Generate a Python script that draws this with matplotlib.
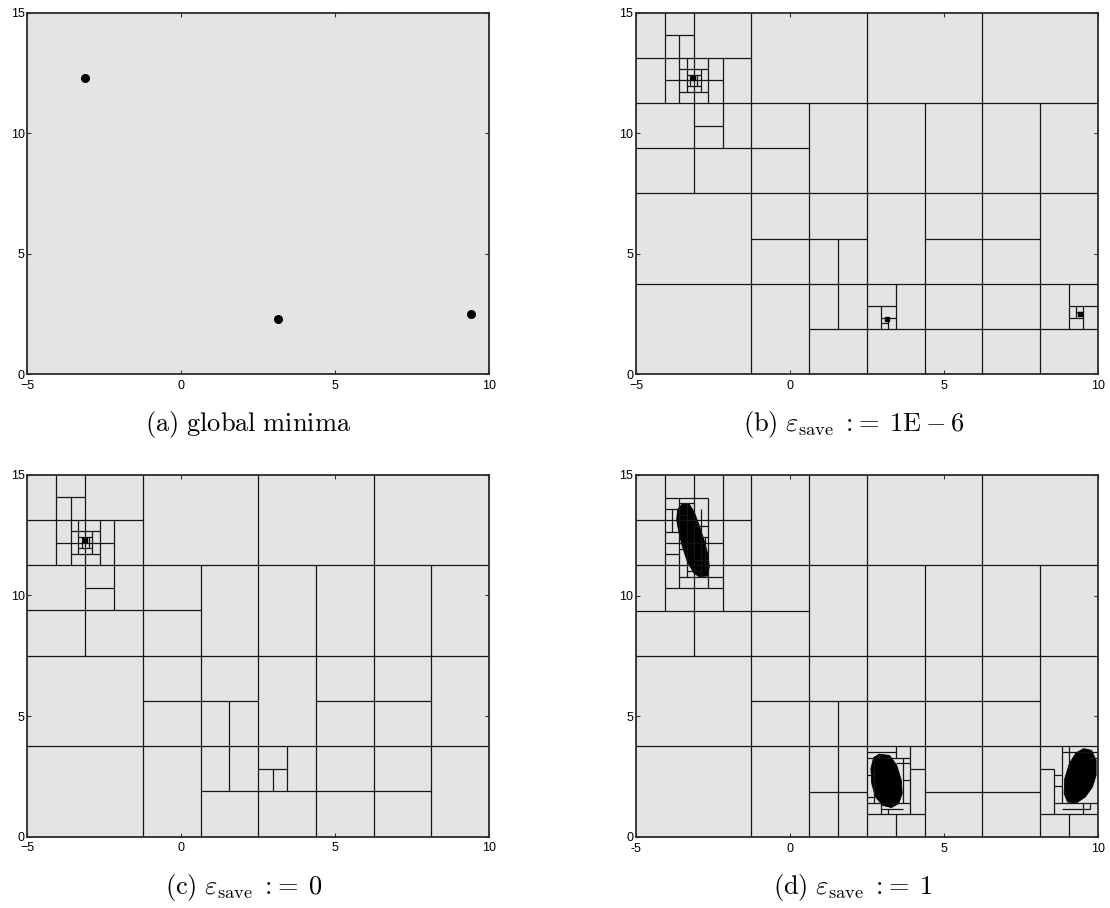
"""
Branin function: boxes left by the branch and bound search for several
values of eps_save, compared with the three global minima.
"""
import matplotlib.pyplot as plt

plt.rcParams['mathtext.fontset'] = 'cm'
plt.rcParams['font.family'] = ['Liberation Sans', 'DejaVu Sans']

X_LIM = (-5, 10)
Y_LIM = (0, 15)
x_ticks = [-5, 0, 5, 10]
y_ticks = [0, 5, 10, 15]
x_tick_labels = ['\u22125', '0', '5', '10']
x_tick_labels_d = ['-5', '0', '5', '10']
y_tick_labels = ['0', '5', '10', '15']

captions = [r'$\mathrm{(a)\ global\ minima}$',
            r'$\mathrm{(b)}\ \varepsilon_{\mathrm{save}}\;{:}\!{=}\;1\mathrm{E}-6$',
            r'$\mathrm{(c)}\ \varepsilon_{\mathrm{save}}\;{:}\!{=}\;0$',
            r'$\mathrm{(d)}\ \varepsilon_{\mathrm{save}}\;{:}\!{=}\;1$']

# global minima of the Branin function
minima_x = [-3.1416, 3.1416, 9.4248]
minima_y = [12.275, 2.275, 2.475]

# box edges shared by (b) and (c)
# horizontal: (y, x0, x1)   vertical: (x, y0, y1)
bc_hlines = [
    (13.125, -5, -1.25), (11.25, -5, 10), (9.375, -5, 0.625), (7.5, -5, 10),
    (5.625, -1.25, 2.5), (5.625, 4.375, 8.125), (3.75, -5, 10),
    (10.3125, -3.125, -2.1875), (14.0625, -4.0625, -3.125),
    (12.1875, -4.0625, -2.1875),
    (12.65625, -3.59375, -2.65625), (11.71875, -3.59375, -2.65625),
    (12.421875, -3.359375, -2.890625), (11.953125, -3.359375, -2.890625),
    (2.8125, 2.5, 3.4375),
]
bc_vlines = [
    (-1.25, 0, 15), (2.5, 0, 15), (6.25, 0, 15),
    (0.625, 0, 11.25), (4.375, 0, 11.25), (8.125, 0, 11.25),
    (-3.125, 7.5, 15), (-4.0625, 11.25, 15), (-2.1875, 9.375, 13.125),
    (1.5625, 1.875, 5.625),
    (-3.59375, 11.25, 14.0625), (-2.65625, 11.25, 13.125),
    (-3.359375, 11.71875, 13.125), (-2.890625, 11.71875, 12.65625),
    (-3.2421875, 11.953125, 12.421875), (-3.0078125, 11.953125, 12.421875),
    (3.4375, 1.875, 3.75), (2.96875, 1.875, 2.8125),
]

# extra edges of (b)
b_hlines = [
    (1.875, 0.625, 10), (2.34375, 2.96875, 3.4375), (2.109375, 2.96875, 3.203125),
    (2.8125, 9.0625, 10), (2.34375, 9.0625, 9.53125), (2.578125, 9.296875, 9.53125),
]
b_vlines = [
    (3.203125, 1.875, 2.34375), (9.0625, 1.875, 3.75),
    (9.53125, 1.875, 2.8125), (9.296875, 2.34375, 2.8125),
]

# extra edges of (c)
c_hlines = [(1.875, 0.625, 8.125)]
c_vlines = []

# edges of (d)
d_hlines = [
    (13.125, -5, -1.25), (11.25, -5, 10), (9.375, -5, 0.625), (7.5, -5, 10),
    (5.625, -1.25, 8.125), (3.75, -5, 10),
    (1.875, 0.625, 2.5), (1.875, 4.375, 8.125),
    (0.9375, 2.5, 4.375), (0.9375, 8.125, 10),
    # around the first minimum
    (14.0625, -4.0625, -2.65625), (10.3125, -4.0625, -2.1875),
    (10.78125, -3.59375, -2.1875), (12.1875, -4.0625, -2.1875),
    (13.59375, -4.0625, -3.59375), (12.65625, -4.0625, -3.59375),
    (11.71875, -4.0625, -3.59375), (13.828125, -3.59375, -3.125),
    (13.359375, -3.59375, -3.359375), (12.890625, -3.125, -2.65625),
    (11.484375, -3.125, -2.65625), (11.015625, -3.359375, -2.890625),
    (12.421875, -2.890625, -2.65625), (11.953125, -3.59375, -3.359375),
    # around the second minimum
    (3.28125, 2.5, 3.90625), (1.40625, 2.5, 3.90625), (2.8125, 3.90625, 4.375),
    (3.515625, 2.5, 3.4375), (1.171875, 2.96875, 3.671875),
    (2.34375, 3.671875, 3.90625), (2.578125, 2.5, 2.734375),
    (1.640625, 2.5, 2.734375), (3.046875, 3.4375, 3.90625),
    # around the third minimum
    (2.8125, 8.125, 8.59375), (1.40625, 8.59375, 10), (3.515625, 8.828125, 10),
    (1.171875, 8.828125, 9.765625), (2.109375, 8.59375, 8.828125),
    (2.578125, 8.59375, 8.828125), (3.28125, 9.765625, 10),
]
d_vlines = [
    (-1.25, 0, 15), (0.625, 0, 15), (2.5, 0, 15), (6.25, 0, 15),
    (4.375, 0, 11.25), (8.125, 0, 11.25),
    (-3.125, 7.5, 15), (-4.0625, 9.375, 15), (-2.1875, 9.375, 15),
    (1.5625, 0, 5.625),
    # around the first minimum
    (-3.59375, 10.3125, 14.0625), (-2.65625, 10.3125, 14.0625),
    (-3.359375, 10.78125, 13.828125), (-2.890625, 10.78125, 13.59375),
    (-3.828125, 12.65625, 13.59375), (-2.7734375, 11.015625, 12.421875),
    # around the second minimum
    (3.4375, 0, 0.9375), (3.90625, 0.9375, 3.75), (2.96875, 0.9375, 1.40625),
    (2.734375, 1.40625, 3.28125), (3.671875, 1.40625, 3.28125),
    (3.203125, 0.9375, 1.171875), (3.4375, 3.28125, 3.75),
    # around the third minimum
    (9.0625, 0, 0.9375), (8.59375, 0.9375, 2.8125), (9.53125, 0.9375, 1.40625),
    (8.828125, 1.40625, 3.75), (9.0625, 2.8125, 3.75), (9.765625, 1.171875, 1.40625),
]

# regions covered by tiny boxes in (d), outlines
blob1_x = [-3.65, -3.49, -3.27, -3.11, -2.95, -2.79, -2.66, -2.62, -2.68,
           -2.95, -3.11, -3.33, -3.49, -3.60, -3.68]
blob1_y = [13.57, 13.82, 13.79, 13.47, 12.92, 12.30, 11.68, 11.20, 10.81,
           10.79, 10.92, 11.40, 12.02, 12.58, 13.13]
blob2_x = [2.90, 3.24, 3.47, 3.62, 3.65, 3.53, 3.30, 3.01, 2.78, 2.66, 2.63, 2.72]
blob2_y = [3.43, 3.38, 2.97, 2.35, 1.80, 1.38, 1.22, 1.31, 1.66, 2.21, 2.83, 3.29]
blob3_x = [9.54, 9.80, 9.95, 9.95, 9.83, 9.60, 9.31, 9.02, 8.91, 8.93, 9.08, 9.29]
blob3_y = [3.66, 3.59, 3.18, 2.56, 2.07, 1.66, 1.41, 1.45, 1.80, 2.42, 3.04, 3.48]

BG = '#e4e4e4'
EDGE = '#151515'


def setup_axes(ax, xlabels):
    ax.set_facecolor(BG)
    ax.set_xlim(X_LIM)
    ax.set_ylim(Y_LIM)
    ax.set_xticks(x_ticks)
    ax.set_xticklabels(xlabels)
    ax.set_yticks(y_ticks)
    ax.set_yticklabels(y_tick_labels)
    ax.tick_params(direction='in', length=3, width=0.8, labelsize=9,
                   top=True, right=True, colors='#333333',
                   labelcolor='black')
    ax.tick_params(axis='x', pad=4)
    ax.tick_params(axis='y', pad=2)
    for s in ax.spines.values():
        s.set_linewidth(1.3)
        s.set_color('#2a2a2a')


def draw_boxes(ax, hlines, vlines):
    if hlines:
        y, x0, x1 = zip(*hlines)
        ax.hlines(y, x0, x1, colors=EDGE, linewidth=0.9)
    if vlines:
        x, y0, y1 = zip(*vlines)
        ax.vlines(x, y0, y1, colors=EDGE, linewidth=0.9)


fig = plt.figure(figsize=(11.1, 9.08), dpi=100)
ax_a = fig.add_axes([0.0247, 0.5881, 0.4159, 0.3979])
ax_b = fig.add_axes([0.5730, 0.5881, 0.4159, 0.3979])
ax_c = fig.add_axes([0.0247, 0.0785, 0.4159, 0.3987])
ax_d = fig.add_axes([0.5730, 0.0782, 0.4159, 0.3987])

# (a) global minima
setup_axes(ax_a, x_tick_labels)
ax_a.plot(minima_x, minima_y, 'o', color='black', markersize=5.5)

# (b) eps_save = 1E-6
setup_axes(ax_b, x_tick_labels)
draw_boxes(ax_b, bc_hlines + b_hlines, bc_vlines + b_vlines)
ax_b.plot(minima_x, minima_y, 's', color='black', markersize=3)

# (c) eps_save = 0
setup_axes(ax_c, x_tick_labels)
draw_boxes(ax_c, bc_hlines + c_hlines, bc_vlines + c_vlines)
ax_c.plot(minima_x[:1], minima_y[:1], 's', color='black', markersize=3)

# (d) eps_save = 1
setup_axes(ax_d, x_tick_labels_d)
draw_boxes(ax_d, d_hlines, d_vlines)
for bx, by in [(blob1_x, blob1_y), (blob2_x, blob2_y), (blob3_x, blob3_y)]:
    ax_d.fill(bx, by, facecolor='black', edgecolor='black', linewidth=0.6)

# captions below each panel
caption_pos = [(0.2234, 0.5330), (0.769, 0.5330), (0.220, 0.0225), (0.7685, 0.0225)]
for (cx, cy), txt in zip(caption_pos, captions):
    fig.text(cx, cy, txt, ha='center', va='center', fontsize=19)

fig.savefig('out.png', dpi=100)
